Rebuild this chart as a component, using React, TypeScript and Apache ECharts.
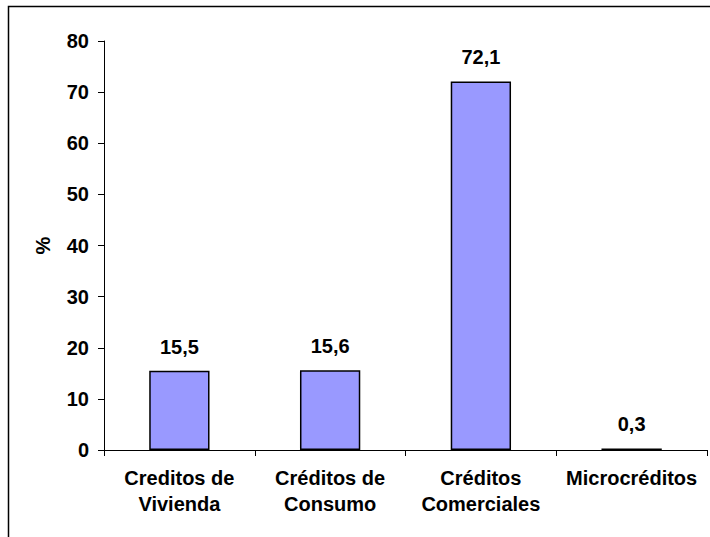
import React, { useEffect, useRef } from "react";
import * as echarts from "echarts";

const categories = ["Creditos de\nVivienda", "Créditos de\nConsumo", "Créditos\nComerciales", "Microcréditos"];
const values = [15.5, 15.6, 72.1, 0.3];
const yTicks = { min: 0, max: 80, interval: 10 };

export default function App() {
  const ref = useRef<HTMLDivElement>(null);
  useEffect(() => {
    if (!ref.current) return;
    const chart = echarts.init(ref.current, null, { renderer: "svg" });
    const font = "'Liberation Sans', Arial, sans-serif";
    chart.setOption({
      animation: false,
      backgroundColor: "#ffffff",
      graphic: [
        {
          type: "rect",
          shape: { x: 8.5, y: 6.5, width: 1000, height: 1000 },
          style: { fill: "none", stroke: "#000", lineWidth: 1.5 },
          silent: true,
        },
      ],
      grid: { left: 104, right: 3, top: 41, bottom: 87, containLabel: false },
      xAxis: {
        type: "category",
        data: categories,
        axisLine: { lineStyle: { color: "#000", width: 1 } },
        axisTick: { show: true, length: 6, lineStyle: { color: "#000" } },
        axisLabel: {
          color: "#000",
          fontFamily: font,
          fontWeight: "bold",
          fontSize: 20,
          lineHeight: 26,
          margin: 15,
          interval: 0,
        },
      },
      yAxis: {
        type: "value",
        min: yTicks.min,
        max: yTicks.max,
        interval: yTicks.interval,
        name: "%",
        nameLocation: "middle",
        nameGap: 51,
        nameRotate: 90,
        nameTextStyle: { color: "#000", fontFamily: font, fontWeight: "bold", fontSize: 20 },
        axisLine: { show: true, lineStyle: { color: "#000", width: 1 } },
        axisTick: { show: true, length: 6, lineStyle: { color: "#000" } },
        splitLine: { show: false },
        axisLabel: {
          color: "#000",
          fontFamily: font,
          fontWeight: "bold",
          fontSize: 20,
          margin: 15,
        },
      },
      series: [
        {
          type: "bar",
          data: values,
          barWidth: "40%",
          itemStyle: { color: "#9999FF", borderColor: "#000", borderWidth: 1.5 },
          label: {
            show: true,
            position: "top",
            distance: 14,
            color: "#000",
            fontFamily: font,
            fontWeight: "bold",
            fontSize: 20,
            formatter: (p: any) => String(p.value).replace(".", ","),
          },
        },
      ],
    });
    return () => chart.dispose();
  }, []);
  return (
    <div
      ref={ref}
      style={{ position: "absolute", left: 0, top: 0, width: 710, height: 537 }}
    />
  );
}
